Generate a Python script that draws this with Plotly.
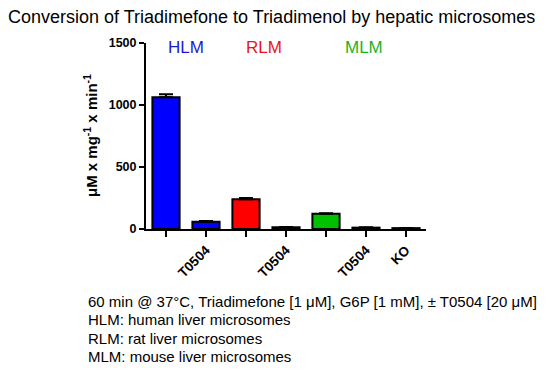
import plotly.graph_objects as go

# ---- data ----
categories = ["HLM", "HLM + T0504", "RLM", "RLM + T0504", "MLM", "MLM + T0504", "KO"]
tick_labels = ["", "T0504", "", "T0504", "", "T0504", "KO"]
values = [1062, 58, 240, 14, 122, 11, 7]
errors = [25, 6, 10, 3, 5, 3, 2]
bar_colors = ["#0000FF", "#0000FF", "#FF0000", "#FF0000", "#00C000", "#00C000", "#00C000"]
group_labels = ["HLM", "RLM", "MLM"]
group_label_colors = ["#1C1CCC", "#E8141A", "#1DB31D"]
group_label_pos = [0.5, 2.45, 4.95]
footnotes = [
    "60 min @ 37°C, Triadimefone [1 μM], G6P [1 mM], ± T0504 [20 μM]",
    "HLM: human liver microsomes",
    "RLM: rat liver microsomes",
    "MLM: mouse liver microsomes",
]
title_text = "Conversion of Triadimefone to Triadimenol by hepatic microsomes"
y_title = "<b>μM x mg<sup>-1</sup> x min<sup>-1</sup></b>"

FONT = "Arial, Liberation Sans, sans-serif"
x_idx = list(range(len(categories)))

# page body has an 8px margin; work in window pixels and subtract it
OFF = 8
W, H = 550 - OFF, 372 - OFF
L, R, T, B = 146 - OFF, 426 - OFF, 43 - OFF, 229 - OFF

def px(x):
    return (x - OFF - L) / (R - L)

def py(y):
    return (B - (y - OFF)) / (B - T)

fig = go.Figure()
fig.add_trace(go.Bar(
    x=x_idx, y=values,
    width=0.68,
    marker=dict(color=bar_colors, line=dict(color="black", width=2)),
    error_y=dict(type="data", array=errors, arrayminus=[0] * len(errors),
                 symmetric=False, color="black", thickness=2, width=7),
    hovertext=categories,
))

annotations = []
for lab, col, pos in zip(group_labels, group_label_colors, group_label_pos):
    annotations.append(dict(x=pos, y=py(47), xref="x", yref="paper", text=lab,
                            showarrow=False, font=dict(family=FONT, size=17, color=col),
                            xanchor="center", yanchor="middle"))
annotations.append(dict(x=px(90), y=py(136), xref="paper", yref="paper", text=y_title,
                        textangle=-90, showarrow=False,
                        font=dict(family=FONT, size=15, color="black"),
                        xanchor="center", yanchor="middle"))
for i, line in enumerate(footnotes):
    annotations.append(dict(x=px(86), y=py(301.5 + i * 18.3), xref="paper", yref="paper",
                            text=line, showarrow=False, align="left",
                            font=dict(family=FONT, size=15, color="black"),
                            xanchor="left", yanchor="middle"))

fig.update_layout(
    width=W, height=H,
    margin=dict(l=L, r=W - R, t=T, b=H - B, pad=0),
    paper_bgcolor="white", plot_bgcolor="white",
    showlegend=False,
    title=dict(text=title_text, x=0, xanchor="left", y=1 - (17 - OFF) / H, yanchor="middle",
               font=dict(family=FONT, size=18, color="black")),
    xaxis=dict(range=[-0.5, 6.5], tickvals=x_idx, ticktext=[f"<b>{t}</b>" for t in tick_labels],
               tickangle=-45, ticks="outside", ticklen=6, tickwidth=2, tickcolor="black",
               showline=True, linecolor="black", linewidth=2, showgrid=False, zeroline=False,
               tickfont=dict(family=FONT, size=13.5, color="black")),
    yaxis=dict(range=[0, 1500], tickvals=[0, 500, 1000, 1500],
               ticktext=["<b>0</b>", "<b>500</b>", "<b>1000</b>", "<b>1500</b>"],
               ticks="outside", ticklen=5, tickwidth=2, tickcolor="black",
               showline=True, linecolor="black", linewidth=2, showgrid=False, zeroline=False,
               tickfont=dict(family=FONT, size=12.5, color="black")),
    annotations=annotations,
)

fig.write_html("out.html")
